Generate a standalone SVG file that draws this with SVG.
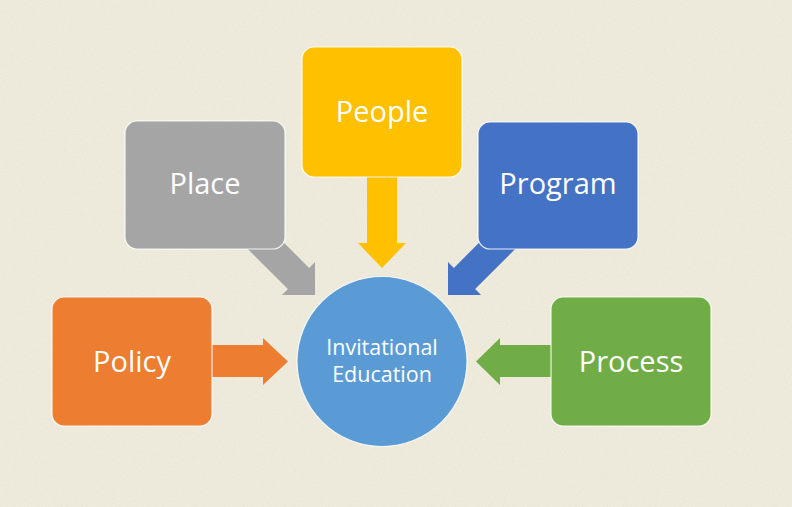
<svg xmlns="http://www.w3.org/2000/svg" width="792" height="507" viewBox="0 0 792 507">
  <defs>
    <filter id="grain" x="0" y="0" width="100%" height="100%">
      <feTurbulence type="fractalNoise" baseFrequency="0.9" numOctaves="2" seed="3" result="n"/>
      <feColorMatrix type="matrix" values="0 0 0 0 0.55  0 0 0 0 0.52  0 0 0 0 0.42  0 0 0 -1.6 0.9" in="n"/>
    </filter>
    <style>
      .box { stroke: #ffffff; stroke-width: 1.2; stroke-opacity: 0.85; }
      .lbl { font-family: "Open Sans", "Liberation Sans", sans-serif; font-size: 29px; fill: #ffffff; text-anchor: middle; }
      .clbl { font-family: "Open Sans", "Liberation Sans", sans-serif; font-size: 21.5px; fill: #ffffff; text-anchor: middle; }
    </style>
  </defs>
  <rect x="0" y="0" width="792" height="507" fill="#EFEBDC"/>
  <rect x="0" y="0" width="792" height="507" filter="url(#grain)" opacity="0.18"/>

  <g id="connectors">
    <polygon fill="#ED7D31" points="205,345 263,345 263,338 288,361.5 263,385 263,377 205,377"/>
    <polygon fill="#70AD47" points="560,345 500,345 500,338 476,361.5 500,385 500,377 560,377"/>
    <polygon fill="#FFC000" points="367,170 367,243 358,243 382,268 406,243 397,243 397,170"/>
    <polygon fill="#A5A5A5" points="260,218.8 309.1,267.9 315,262 315,295 282,295 287.9,289.1 230,231.2"/>
    <polygon fill="#4472C4" points="503,218.8 453.9,267.9 448,262 448,295 481,295 475.1,289.1 533,231.2"/>
  </g>

  <g id="node-policy">
    <rect class="box" x="52" y="297" width="160" height="129" rx="12" fill="#ED7D31"/>
    <text class="lbl" x="132" y="372">Policy</text>
  </g>
  <g id="node-place">
    <rect class="box" x="125" y="121" width="160" height="128" rx="12" fill="#A5A5A5"/>
    <text class="lbl" x="205" y="194">Place</text>
  </g>
  <g id="node-people">
    <rect class="box" x="302" y="47" width="160" height="130" rx="12" fill="#FFC000"/>
    <text class="lbl" x="382" y="122">People</text>
  </g>
  <g id="node-program">
    <rect class="box" x="478" y="122" width="160" height="127" rx="12" fill="#4472C4"/>
    <text class="lbl" x="558" y="194">Program</text>
  </g>
  <g id="node-process">
    <rect class="box" x="551" y="297" width="160" height="129" rx="12" fill="#70AD47"/>
    <text class="lbl" x="631" y="372">Process</text>
  </g>
  <g id="node-center">
    <circle class="box" cx="382" cy="361.5" r="85" fill="#5B9BD5"/>
    <text class="clbl" x="382" y="355">Invitational</text>
    <text class="clbl" x="382" y="382">Education</text>
  </g>
</svg>
